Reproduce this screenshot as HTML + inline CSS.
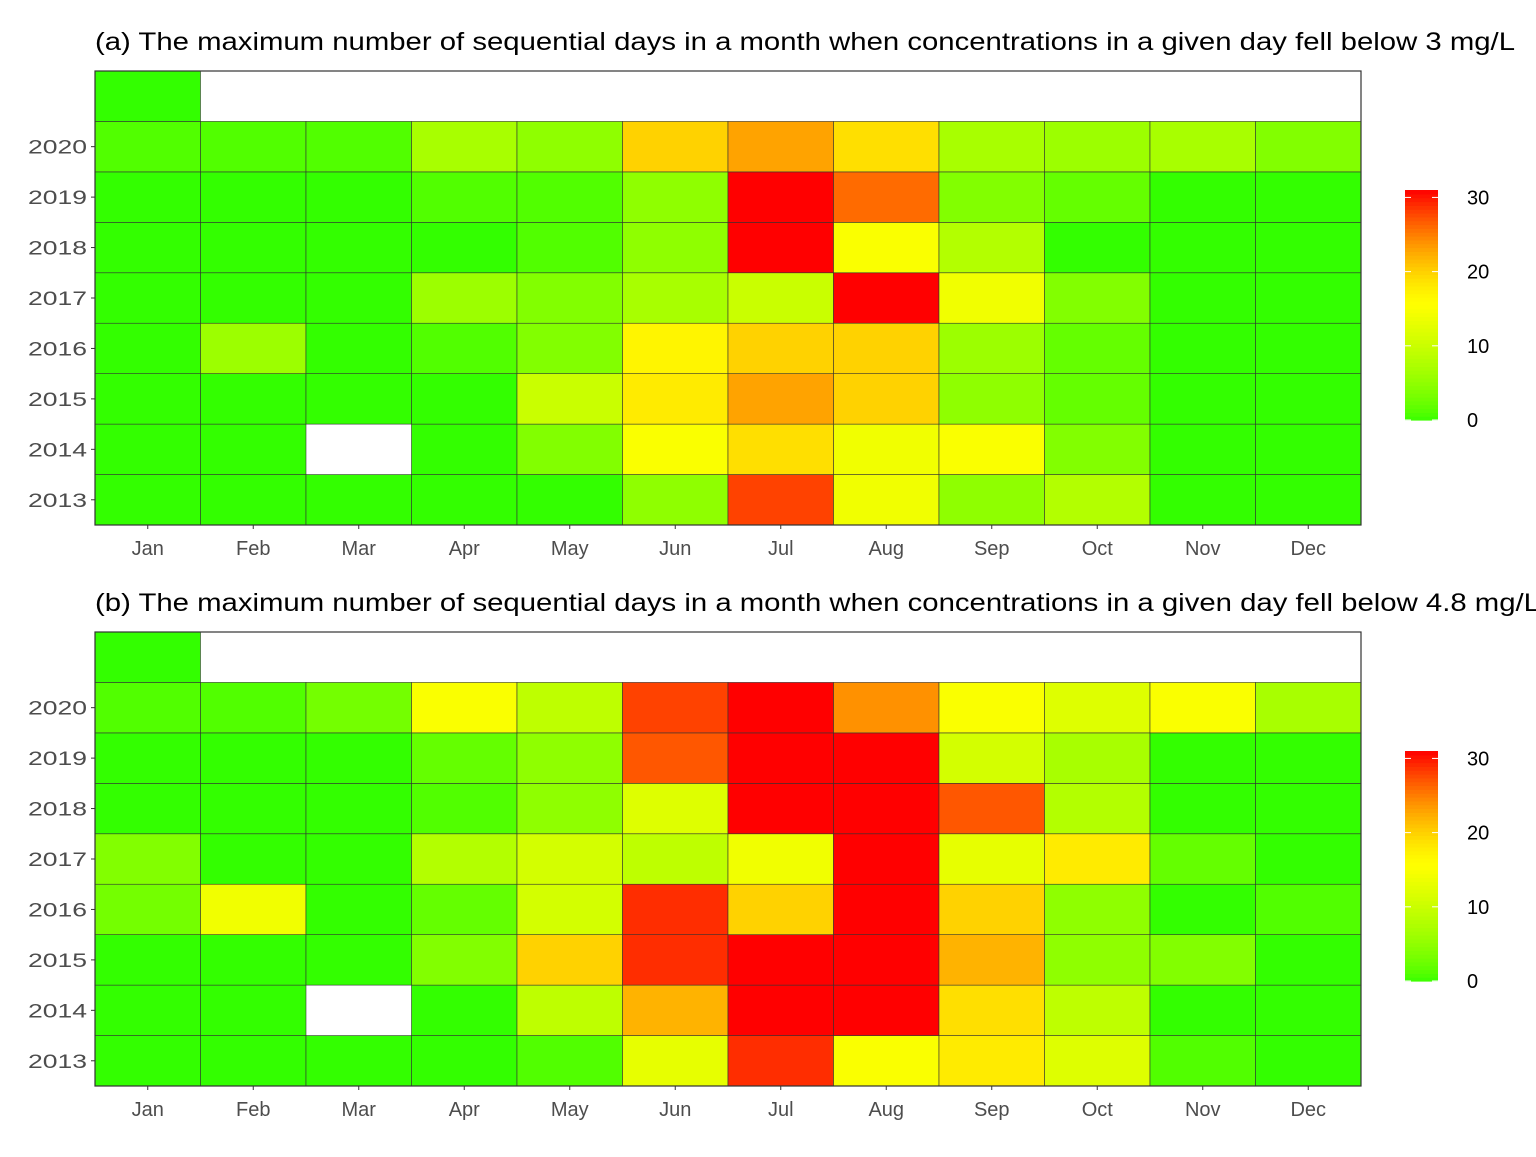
<!DOCTYPE html>
<html><head><meta charset="utf-8"><style>
body{margin:0;background:#fff;font-family:"Liberation Sans",sans-serif}
</style></head><body>
<svg id="svg" width="1536" height="1152" xmlns="http://www.w3.org/2000/svg"></svg>
<script>
const months=["Jan","Feb","Mar","Apr","May","Jun","Jul","Aug","Sep","Oct","Nov","Dec"];
const years=["2013","2014","2015","2016","2017","2018","2019","2020"];
const legendTicks=[0,10,20,30];
const valuesA=[
[0,0,0,0,0,5,28,14,5,8,0,0],
[0,0,null,0,4,15,19,14,15,4,0,0],
[0,0,0,0,10,18,23,20,5,2,0,0],
[0,6,0,1,4,17,20,20,6,2,0,0],
[0,0,0,6,4,7,10,31,14,4,0,0],
[0,0,0,0,1,5,31,15,8,0,0,0],
[0,0,0,1,1,5,31,26,4,2,0,0],
[1,1,1,7,5,20,23,19,7,6,7,4]];
const valuesB=[
[0,0,0,0,1,13,29,15,18,12,1,0],
[0,0,null,0,9,22,31,31,19,9,0,0],
[0,0,0,4,20,29,31,31,22,5,4,0],
[3,14,0,2,11,29,20,31,20,5,0,1],
[4,0,0,8,11,9,14,31,13,18,2,0],
[0,0,0,1,5,12,31,31,27,8,0,0],
[0,0,0,2,5,27,31,31,11,7,0,0],
[1,1,3,15,9,28,31,24,15,12,15,7]];
const extraA=0, extraB=0;
const titleA="(a) The maximum number of sequential days in a month when concentrations in a given day fell below 3 mg/L";
const titleB="(b) The maximum number of sequential days in a month when concentrations in a given day fell below 4.8 mg/L";
const NS="http://www.w3.org/2000/svg";
const svg=document.getElementById('svg');
function mk(t,a,p){const e=document.createElementNS(NS,t);for(const k in a)e.setAttribute(k,a[k]);(p||svg).appendChild(e);return e;}
const VMAX=31;
function color(v){
  const t=v/15.5;
  if(t<=1){const r=Math.round(51+204*Math.pow(t,0.7));return `rgb(${r},255,0)`;}
  const s=Math.min(1,(v-15.5)/15.5);
  const g=Math.round(255*(1-Math.pow(s,1.4)));return `rgb(255,${Math.max(0,g)},0)`;
}
function panel(vals,extra,title,top,name,tlen){
  const g=mk('g',{});
  
  
  const x0=95,x1=1361,y0=top,y1=top+454;
  const cw=(x1-x0)/12, rh=(y1-y0)/9;
  const xs=i=>x0+i*cw;
  const ys=r=>y1-(r+1)*rh;
  const t=mk('text',{x:95,y:top-21,'font-size':25,fill:'#000',textLength:tlen,lengthAdjust:'spacingAndGlyphs'},g);t.textContent=title;
  
  mk('rect',{x:x0,y:y0,width:x1-x0,height:y1-y0,fill:'#fff'},g);
  vals.forEach((row,r)=>row.forEach((v,c)=>{
    if(v===null)return;
    const e=mk('rect',{x:xs(c),y:ys(r),width:cw,height:rh,fill:color(v),stroke:'#333','stroke-width':0.6},g);
    
    
  }));
  const ex=mk('rect',{x:xs(0),y:ys(8),width:cw,height:rh,fill:color(extra),stroke:'#333','stroke-width':0.6},g);
  
  mk('rect',{x:x0,y:y0,width:x1-x0,height:y1-y0,fill:'none',stroke:'#333','stroke-width':1.2},g);
  years.forEach((y,r)=>{
    const cy=ys(r)+rh/2;
    mk('line',{x1:x0-4,x2:x0,y1:cy,y2:cy,stroke:'#333'},g);
    const l=mk('text',{x:x0-8,y:cy+7,'font-size':19,fill:'#4d4d4d','text-anchor':'end',textLength:59,lengthAdjust:'spacingAndGlyphs'},g);l.textContent=y;
    
  });
  months.forEach((m,c)=>{
    const cx=xs(c)+cw/2;
    mk('line',{x1:cx,x2:cx,y1:y1,y2:y1+4,stroke:'#333'},g);
    const l=mk('text',{x:cx,y:y1+30,'font-size':20,fill:'#4d4d4d','text-anchor':'middle'},g);l.textContent=m;
    
  });
  const lx=1405,lw=33,lb=top+349,lt=top+119;
  const ly=v=>lb-(v/VMAX)*(lb-lt);
  for(let i=0;i<60;i++){
    const v0=i*VMAX/60;
    mk('rect',{x:lx,y:ly(v0+VMAX/60),width:lw,height:(lb-lt)/60+0.6,fill:color(v0+VMAX/120)},g);
  }
  legendTicks.forEach(v=>{
    const yy=ly(v);
    mk('line',{x1:lx,x2:lx+6,y1:yy,y2:yy,stroke:'#fff'},g);
    mk('line',{x1:lx+lw-6,x2:lx+lw,y1:yy,y2:yy,stroke:'#fff'},g);
    const l=mk('text',{x:lx+lw+29,y:yy+7,'font-size':20,fill:'#000'},g);l.textContent=v;
    
  });
}
panel(valuesA,extraA,titleA,71,'heatmap-a',1420);
panel(valuesB,extraB,titleB,632,'heatmap-b',1445);
</script>
</body></html>
